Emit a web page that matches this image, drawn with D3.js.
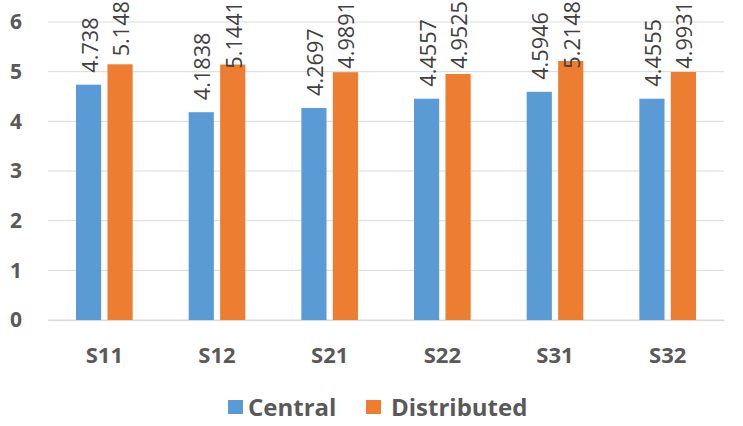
<!DOCTYPE html>
<html>
<head>
<meta charset="utf-8">
<script src="https://cdn.jsdelivr.net/npm/d3@7"></script>
<style>
  body { margin: 0; background: #fff; }
  text { font-family: "Open Sans", "Noto Sans", sans-serif; }
</style>
</head>
<body>
<script>
// Data
var categories = ["S11", "S12", "S21", "S22", "S31", "S32"];
var seriesNames = ["Central", "Distributed"];
var central = [4.738, 4.1838, 4.2697, 4.4557, 4.5946, 4.4555];
var distributed = [5.148, 5.1441, 4.9891, 4.9525, 5.2148, 4.9931];
var yTicks = [0, 1, 2, 3, 4, 5, 6];
var colors = ["#5b9bd5", "#ed7d31"];

var W = 743, H = 426;
var margin = { top: 22, right: 19, bottom: 106, left: 48 },
  width = W - margin.left - margin.right,
  height = H - margin.top - margin.bottom;

var svg = d3.select("body").append("svg")
  .attr("width", W)
  .attr("height", H);

var g = svg.append("g")
  .attr("transform", "translate(" + margin.left + "," + margin.top + ")");

var x = d3.scaleBand().domain(categories).range([0, width]).padding(0);
var x1 = d3.scaleBand().domain(seriesNames).range([28, x.bandwidth() - 28]).paddingInner(0.2);
var y = d3.scaleLinear().domain([0, 6]).range([height, 0]);

// gridlines
g.selectAll(".grid").data(yTicks).enter().append("line")
  .attr("x1", 0).attr("x2", width)
  .attr("y1", function(d) { return y(d); })
  .attr("y2", function(d) { return y(d); })
  .attr("stroke", "#d9d9d9")
  .attr("stroke-width", 1);

// y axis labels
var yAxis = d3.axisLeft(y).tickValues(yTicks).tickSize(0).tickPadding(26).tickFormat(d3.format("d"));
var ya = g.append("g").call(yAxis);
ya.select(".domain").remove();
ya.selectAll("text")
  .attr("fill", "#595959")
  .style("font-size", "21px")
  .style("font-weight", "bold");

// x axis labels
var xAxis = d3.axisBottom(x).tickSize(0).tickPadding(27);
var xa = g.append("g").attr("transform", "translate(0," + height + ")").call(xAxis);
xa.select(".domain").attr("stroke", "#d9d9d9");
xa.selectAll("text")
  .attr("fill", "#595959")
  .style("font-size", "22px")
  .style("font-weight", "bold");

// bars
var rows = categories.map(function(c, i) {
  return { cat: c, vals: [
    { name: seriesNames[0], v: central[i], color: colors[0] },
    { name: seriesNames[1], v: distributed[i], color: colors[1] }
  ] };
});

var groups = g.selectAll(".cat").data(rows).enter().append("g")
  .attr("transform", function(d) { return "translate(" + x(d.cat) + ",0)"; });

groups.selectAll("rect").data(function(d) { return d.vals; }).enter().append("rect")
  .attr("x", function(d) { return x1(d.name); })
  .attr("y", function(d) { return y(d.v); })
  .attr("width", x1.bandwidth())
  .attr("height", function(d) { return height - y(d.v); })
  .attr("fill", function(d) { return d.color; });

// value labels: kept inside the chart (pushed down when they would run off the top)
groups.selectAll(".lbl").data(function(d) { return d.vals; }).enter().append("text")
  .attr("class", "lbl")
  .attr("fill", "#404040")
  .style("font-size", "21.7px")
  .text(function(d) { return d.v; })
  .attr("transform", function(d) {
    var len = this.getComputedTextLength();
    var cx = x1(d.name) + x1.bandwidth() / 2 + 9;
    var bottom = Math.max(y(d.v) - 12, len + 1 - margin.top);
    return "translate(" + cx + "," + bottom + ") rotate(-90)";
  });

// legend
var legend = svg.append("g").attr("transform", "translate(228,400)");
var li = legend.selectAll("g").data(seriesNames).enter().append("g")
  .attr("transform", function(d, i) { return "translate(" + (i * 138) + ",0)"; });
li.append("rect")
  .attr("width", 15).attr("height", 14)
  .attr("fill", function(d, i) { return colors[i]; });
li.append("text")
  .attr("x", function(d, i) { return i ? 25 : 20; })
  .attr("y", 16)
  .attr("fill", "#595959")
  .style("font-size", "24px")
  .style("font-weight", "bold")
  .text(function(d) { return d; });
</script>
</body>
</html>
